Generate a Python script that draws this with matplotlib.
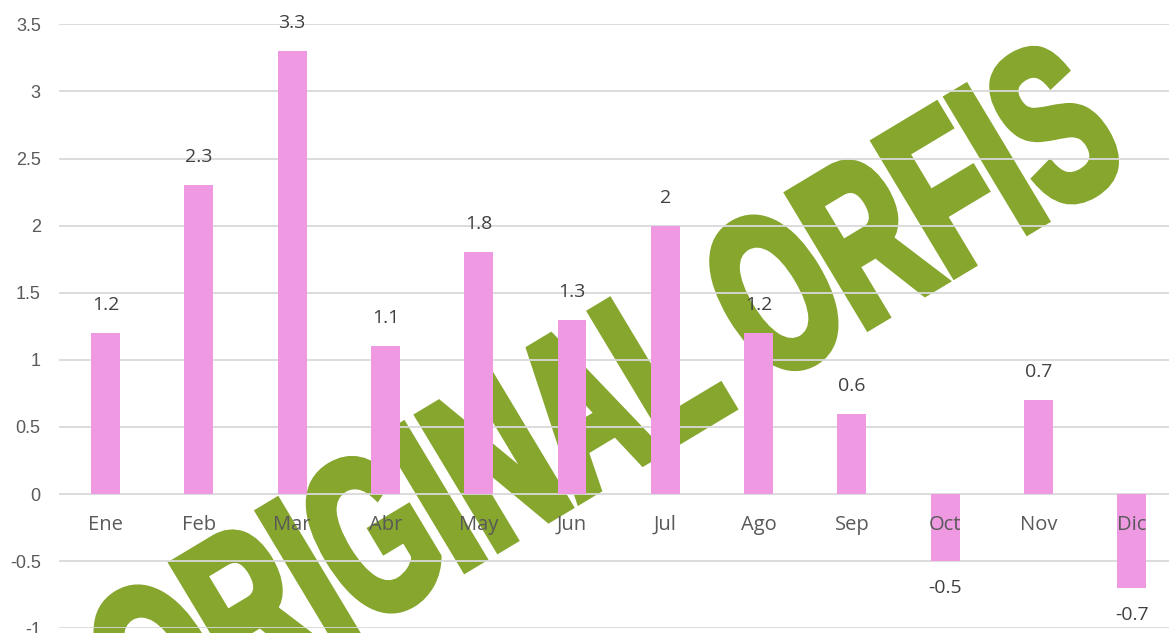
import matplotlib
matplotlib.use("Agg")
import matplotlib.pyplot as plt
from matplotlib import patheffects
from matplotlib.transforms import Affine2D, offset_copy

# Data
months = ["Ene", "Feb", "Mar", "Abr", "May", "Jun", "Jul", "Ago", "Sep", "Oct", "Nov", "Dic"]
values = [1.2, 2.3, 3.3, 1.1, 1.8, 1.3, 2.0, 1.2, 0.6, -0.5, 0.7, -0.7]
value_labels = ["1.2", "2.3", "3.3", "1.1", "1.8", "1.3", "2", "1.2", "0.6", "-0.5", "0.7", "-0.7"]
y_ticks = [-1, -0.5, 0, 0.5, 1, 1.5, 2, 2.5, 3, 3.5]
y_tick_labels = ["-1", "-0.5", "0", "0.5", "1", "1.5", "2", "2.5", "3", "3.5"]
watermark = "ORIGINAL ORFIS"

BAR_COLOR = "#EE99E2"
GRID_COLOR = "#D9D9D9"
MARK_COLOR = "#86A62E"


# squeeze glyphs horizontally and fatten them (heavy condensed watermark)
class Squeeze(patheffects.AbstractPathEffect):
    def __init__(self, sx, lw):
        super().__init__()
        self.sx = sx
        self.lw = lw

    def draw_path(self, renderer, gc, tpath, affine, rgbFace=None):
        aff = Affine2D().scale(self.sx, 1) + affine
        gc0 = renderer.new_gc()
        gc0.copy_properties(gc)
        gc0.set_linewidth(self.lw)
        gc0.set_foreground(rgbFace)
        gc0.set_joinstyle("miter")
        renderer.draw_path(gc0, tpath, aff, rgbFace)
        gc0.restore()


fig = plt.figure(figsize=(11.69, 6.33), dpi=100)
ax = fig.add_axes([0.0503, 0.0074, 0.9578, 0.9542])
ax.patch.set_visible(False)

# Watermark behind everything
fig.text(0.13, -0.196, watermark, transform=fig.transFigure,
         fontsize=162, fontweight="bold", family="Liberation Sans",
         color=MARK_COLOR, rotation=31, rotation_mode="anchor",
         ha="left", va="baseline", zorder=-5,
         path_effects=[Squeeze(0.62, 6)])

x = list(range(len(months)))
ax.bar(x, values, width=0.31, color=BAR_COLOR, zorder=2)

ax.set_xlim(-0.5, len(months) - 0.5)
ax.set_ylim(-1, 3.5)
ax.set_yticks(y_ticks)
ax.set_yticklabels(y_tick_labels, fontsize=13, color="#595959", family="Liberation Sans")
ax.set_xticks([])
ax.tick_params(axis="y", length=0, pad=13)
ax.set_axisbelow(True)
ax.yaxis.grid(True, color=GRID_COLOR, linewidth=1.3)
for s in ax.spines.values():
    s.set_visible(False)

# Month labels just below zero line (drawn over bars)
lab_tr = offset_copy(ax.transData, fig=fig, x=0, y=-31, units="dots")
for i, m in enumerate(months):
    ax.text(i, 0, m, transform=lab_tr, ha="center", va="center",
            fontsize=14.5, color="#595959", family="Open Sans", zorder=5)

# Data labels
for i, (v, t) in enumerate(zip(values, value_labels)):
    off = 28 if v >= 0 else -27
    tr = offset_copy(ax.transData, fig=fig, x=0, y=off, units="dots")
    ax.text(i, v, t, transform=tr, ha="center", va="center",
            fontsize=14, color="#404040", family="Open Sans", zorder=5)

fig.savefig("out.png", dpi=100)
